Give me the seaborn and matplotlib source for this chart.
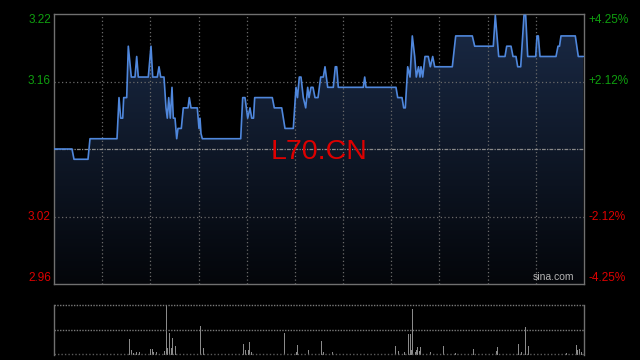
import numpy as np
import matplotlib
matplotlib.use("Agg")
import matplotlib.pyplot as plt
import seaborn as sns
from matplotlib.colors import LinearSegmentedColormap

# ---- data ----
prev_close = 3.09
ticker = "L70.CN"
# time offsets within the session (0 = open, 530 = close)
times = [0, 18, 20, 34, 36, 63, 65, 66.7, 68.7, 69.7, 72.7, 74.3, 77.3, 81, 82.7,
         84.3, 94.3, 97, 98.7, 103.3, 105, 106.7, 110, 112, 113.3, 114.7, 116.3,
         118, 119.3, 121, 122.7, 124, 127.3, 129.3, 134, 135.3, 137, 143.3, 145,
         146, 147, 148.3, 186.7, 188.7, 191, 193.7, 196, 197.7, 199.5, 200.7,
         218.3, 220.3, 227.7, 231, 239.3, 242, 243.5, 245.3, 247, 249.3, 251.7,
         253.7, 255, 257, 259, 261, 264, 266.7, 269.3, 271, 273.7, 279.3, 281.3,
         282.7, 284.3, 309.3, 310.7, 312, 342, 343.7, 348, 349.7, 351.3, 353.7,
         356, 358.3, 360.7, 362.3, 364.5, 366, 367, 368.7, 371, 374.3, 376.3,
         378.7, 380.7, 398.3, 401.7, 418.3, 420.7, 439.3, 441.3, 444.7, 451,
         452.7, 457, 459, 462, 463.7, 466.7, 470, 471.7, 473.7, 481.7, 483,
         484.3, 486, 502, 504, 505.5, 507, 521.3, 524.3, 529.3]
prices = [3.09, 3.09, 3.08, 3.08, 3.10, 3.10, 3.14, 3.12, 3.12, 3.14, 3.14, 3.19,
          3.16, 3.16, 3.18, 3.16, 3.16, 3.19, 3.16, 3.16, 3.17, 3.16, 3.16, 3.13,
          3.12, 3.14, 3.12, 3.15, 3.12, 3.12, 3.10, 3.11, 3.11, 3.13, 3.13, 3.14,
          3.13, 3.13, 3.11, 3.12, 3.105, 3.10, 3.10, 3.14, 3.14, 3.12, 3.13, 3.12,
          3.12, 3.14, 3.14, 3.13, 3.13, 3.11, 3.11, 3.15, 3.14, 3.16, 3.16, 3.14,
          3.13, 3.15, 3.14, 3.15, 3.15, 3.14, 3.14, 3.16, 3.16, 3.17, 3.15, 3.15,
          3.17, 3.17, 3.15, 3.15, 3.16, 3.15, 3.15, 3.14, 3.14, 3.13, 3.13, 3.17,
          3.16, 3.20, 3.18, 3.16, 3.17, 3.16, 3.17, 3.16, 3.18, 3.18, 3.17, 3.18,
          3.17, 3.17, 3.20, 3.20, 3.19, 3.19, 3.22, 3.18, 3.18, 3.19, 3.19, 3.18,
          3.18, 3.17, 3.17, 3.22, 3.22, 3.18, 3.18, 3.20, 3.20, 3.18, 3.18, 3.19,
          3.19, 3.20, 3.20, 3.18, 3.18]

vol_times = [75, 77, 79, 82, 85, 96, 98, 99, 102, 110, 112, 113, 115, 117, 118,
             121, 146, 149, 189, 191, 194, 195, 197, 230, 242, 243, 254, 267, 269,
             278, 341, 344, 350, 354, 356, 357, 358, 361, 362, 363, 365, 366, 376,
             389, 401, 419, 442, 443, 464, 467, 471, 474, 512, 522, 523, 525, 527]
volumes = [31, 9, 4, 5, 6, 11, 11, 6, 5, 8, 100, 13, 43, 13, 33,
           17, 57, 13, 21, 9, 9, 25, 6, 43, 6, 19, 9, 27, 5,
           5, 17, 8, 6, 41, 41, 9, 92, 5, 9, 15, 7, 15, 5,
           17, 4, 12, 8, 15, 21, 6, 55, 17, 4, 19, 9, 12, 6]

left_labels = ["3.22", "3.16", "3.02", "2.96"]
right_labels = ["+4.25%", "+2.12%", "-2.12%", "-4.25%"]
label_pcts = [0.0425, 0.02125, -0.02125, -0.0425]

# ---- style ----
sns.set_theme(style="dark")
plt.rcParams['font.family'] = ['Liberation Sans', 'DejaVu Sans']

GREEN = "#0f9f0f"
RED = "#dd0000"
GRID = "#6a6a6a"
SPINE = "#707070"
LINE = "#4f87dc"

fig = plt.figure(figsize=(6.4, 3.6), dpi=100, facecolor="black")
ax = fig.add_axes([54/640, 1-284/360, 530/640, 270/360])
axv = fig.add_axes([54/640, 1-354.7/360, 530/640, 50.2/360])

for a in (ax, axv):
    a.set_facecolor("black")
    a.set_xlim(0, 530)
    a.set_xticks([])
    a.set_yticks([])
    a.grid(False)
    a.set_xlabel("")
    a.set_ylabel("")

ymin, ymax = prev_close*(1-0.0425), prev_close*(1+0.0425)
ax.set_ylim(ymin, ymax)

# gradient fill under the line
poly = ax.fill_between(times, prices, ymin, color="none", lw=0)
grad = np.linspace(1, 0, 256).reshape(-1, 1)
cmap = LinearSegmentedColormap.from_list("g", ["#04060a", "#1a2a46"])
im = ax.imshow(grad, extent=[0, 530, ymin, ymax], aspect="auto", cmap=cmap,
               origin="upper", zorder=1)
im.set_clip_path(poly.get_paths()[0], transform=ax.transData)

# grid lines
for xv in np.linspace(0, 530, 12)[1:-1]:
    ax.axvline(xv, color=GRID, lw=0.9, ls=(0, (1, 2)), zorder=2)
for p in (0.02125, -0.02125):
    ax.axhline(prev_close*(1+p), color=GRID, lw=0.9, ls=(0, (1, 2)), zorder=2)
ax.axhline(prev_close, color="#8a8a8a", lw=0.9, ls=(0, (3, 1, 1, 1)), zorder=2)

sns.lineplot(x=times, y=prices, ax=ax, color=LINE, linewidth=1.2, zorder=3)
ax.set_xlim(0, 530)
ax.set_ylim(ymin, ymax)

for s in ax.spines.values():
    s.set_color(SPINE)
    s.set_linewidth(1)
    s.set_visible(True)

# labels
tr_l = ax.get_yaxis_transform()
for lab, rl, p in zip(left_labels, right_labels, label_pcts):
    col = GREEN if p > 0 else RED
    va = "top" if p == 0.0425 else ("bottom" if p == -0.0425 else "center")
    y = prev_close*(1+p)
    ax.text(-0.006, y, lab, transform=tr_l, ha="right", va=va, color=col,
            fontsize=8.5, clip_on=False)
    ax.text(1.009, y, rl, transform=tr_l, ha="left", va=va, color=col,
            fontsize=8.5, clip_on=False)

ax.text(0.5, prev_close - 0.0025, ticker, transform=tr_l, ha="center",
        va="center", color=RED, fontsize=20.5, zorder=4)
ax.text(0.981, 0.008, "sina.com", transform=ax.transAxes, ha="right",
        va="bottom", color="#b4b4b4", fontsize=7.5, zorder=4)

# volume panel
sns.histplot(x=vol_times, weights=volumes, binwidth=1, binrange=(0, 530),
             ax=axv, color="#8a8a8a", alpha=1, linewidth=0, element="bars")
axv.set_xlim(0, 530)
axv.set_ylim(0, 100)
axv.set_xticks([]); axv.set_yticks([])
axv.set_xlabel(""); axv.set_ylabel("")
for k in ("top", "bottom"):
    axv.spines[k].set_visible(False)
for k in ("left", "right"):
    axv.spines[k].set_color(SPINE)
    axv.spines[k].set_linewidth(1)
for yv in (100, 50):
    axv.axhline(yv, color="#7a7a7a", lw=1.0, ls=(0, (1, 1)), clip_on=False)
axv.axhline(0.5, color="#5a5a5a", lw=1.0, ls=(0, (1, 1.5)), clip_on=False)

fig.savefig("out.png", dpi=100, facecolor="black")
